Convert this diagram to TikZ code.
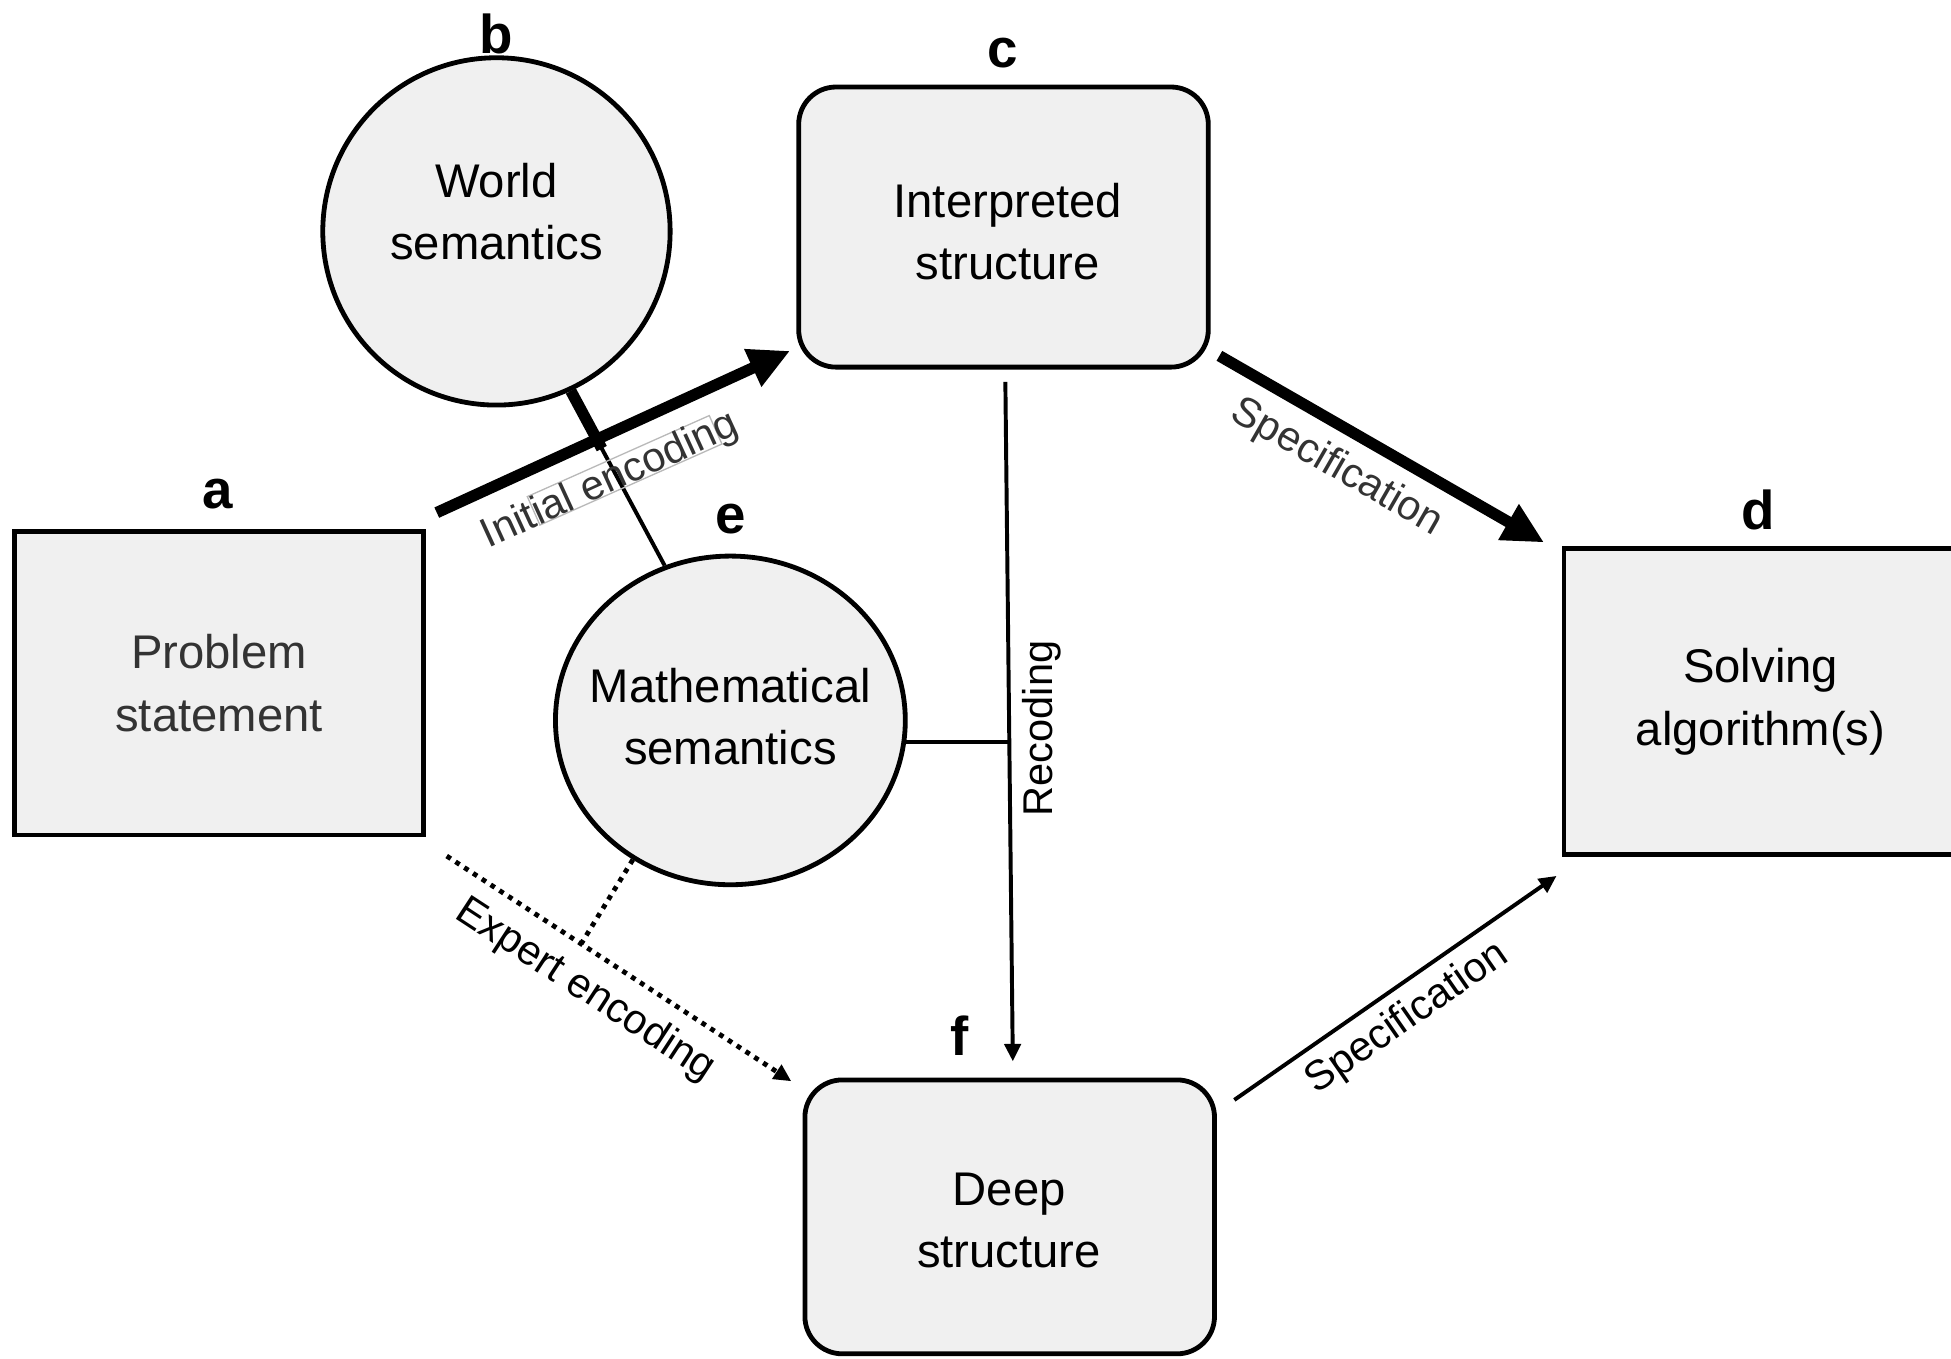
\documentclass[tikz,border=0pt]{standalone}
\usepackage{fontspec}
\setmainfont{Liberation Sans}
\usetikzlibrary{arrows.meta}
\usetikzlibrary{calc}
\usetikzlibrary{shapes.geometric}
\usetikzlibrary{positioning}

\definecolor{boxgray}{HTML}{F0F0F0}
\definecolor{textgray}{HTML}{333333}
\newcommand{\stagefont}{\fontsize{10.8}{14.2}\selectfont}
\newcommand{\letterfont}{\fontsize{12.5}{15}\selectfont\bfseries}
\newcommand{\edgefont}{\fontsize{9.5}{11}\selectfont}

\tikzset{
  box/.style={draw, line width=1.1pt, fill=boxgray, align=center, inner sep=0pt, font=\stagefont},
  roundbox/.style={box, rounded corners=0.3cm},
  tag/.style={font=\letterfont},
  elabel/.style={font=\edgefont, inner sep=0pt},
  thickarrow/.style={line width=2.6pt, -{Triangle[length=3.3mm,width=3.1mm]}},
  thinarrow/.style={line width=0.9pt, -{Triangle[length=1.4mm,width=1.3mm]}},
  dotline/.style={line width=1.1pt, dash pattern=on 1.1pt off 1.3pt}
}

\begin{document}
\begin{tikzpicture}[x=0.01cm, y=-0.01cm]
    \useasboundingbox (0,0) rectangle (1568,1092);
    % stages
    \node[box, minimum width=3.28cm, minimum height=2.44cm, text=textgray] (ps) at (176,549) {Problem\\statement};
    \node[box, circle, minimum size=2.79cm] (ws) at (399,186) {};
    \node[font=\stagefont, align=center] (wst) at (399,170) {World\\semantics};
    \node[roundbox, minimum width=3.29cm, minimum height=2.25cm] (is) at (806.5,182.5) {};
    \node[font=\stagefont, align=center] (ist) at (810,186) {Interpreted\\structure};
    \node[box, minimum width=3.16cm, minimum height=2.46cm] (sa) at (1415,564) {Solving\\algorithm(s)};
    \node[box, ellipse, minimum width=2.81cm, minimum height=2.64cm] (ms) at (587,579) {};
    \node[font=\stagefont, align=center] (mst) at (587,576) {Mathematical\\semantics};
    \node[roundbox, minimum width=3.29cm, minimum height=2.2cm] (ds) at (811.5,978) {};
    \node[font=\stagefont, align=center] (dst) at (811,981) {Deep\\structure};
    % letters
    \node[tag] (ta) at (175,397) {a};
    \node[tag] (tb) at (399,27) {b};
    \node[tag] (tc) at (806,43) {c};
    \node[tag] (td) at (1413,410) {d};
    \node[tag] (te) at (587,417) {e};
    \node[tag] (tf) at (771,832) {f};
    % semantics link
    \draw[line width=0.9pt] (ws.-65) -- (ms.113);
    \draw[line width=2.6pt] (ws.-65) -- ($(ws.-65)!0.33!(ms.113)$);
    % encodings
    \node[draw=gray!55, line width=0.3pt, minimum width=1.6cm, minimum height=0.25cm, inner sep=0pt, rotate=24] (frame) at (502,378) {};
    \draw[thickarrow] ([shift={(9,-13)}]ps.north east) -- node[elabel, sloped, below=0.15cm, pos=0.44, text=textgray] (il) {Initial encoding} ([shift={(-5,-15)}]is.south west);
    \draw[dotline, -{Triangle[length=1.4mm,width=1.3mm]}] ([shift={(17,15)}]ps.south east) -- coordinate[pos=0.39] (ej) node[elabel, sloped, below=0.12cm, pos=0.46] (el) {Expert encoding} ([shift={(-9,3)}]ds.north west);
    \draw[dotline] (ms.235) -- (ej);
    % recoding
    \draw[thinarrow] ([shift={(1.5,10)}]is.south) -- coordinate[pos=0.525] (rj) node[elabel, pos=0.51, rotate=90, anchor=north, outer sep=0.11cm] (rl) {Recoding} ([shift={(2.5,-13)}]ds.north);
    \draw[line width=0.9pt] (ms.-7) -- (ms.-7 -| rj);
    % specification
    \draw[thickarrow] ([shift={(7,-11)}]is.south east) -- node[elabel, sloped, below=0.11cm, pos=0.42, text=textgray] (su) {Specification} ([shift={(-14,-3)}]sa.north west);
    \draw[thinarrow] ([shift={(14,18)}]ds.north east) -- node[elabel, sloped, below=0.085cm, pos=0.48] (sl) {Specification} ([shift={(-4,15)}]sa.south west);
\end{tikzpicture}
\end{document}
